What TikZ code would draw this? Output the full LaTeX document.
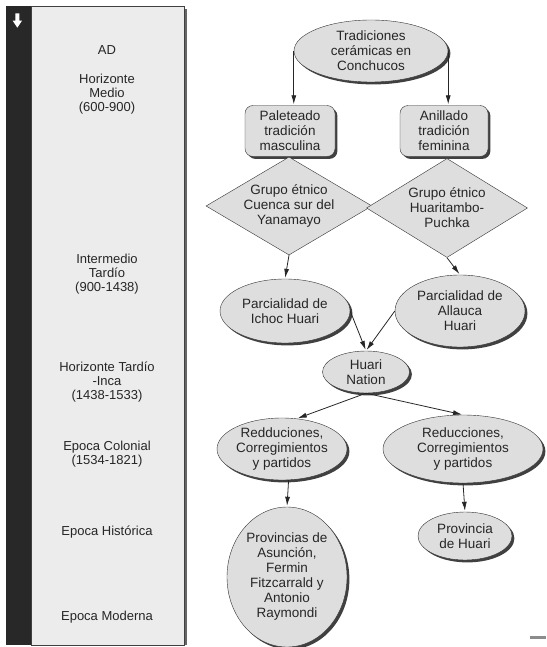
\documentclass[tikz,border=0pt]{standalone}
\usepackage{fontspec}
\setmainfont{Liberation Sans}
\usepackage{tikz}
\usetikzlibrary{arrows.meta,positioning,calc,shapes,shadows}

\definecolor{panelgray}{HTML}{ECECEC}
\definecolor{nodegray}{HTML}{DEDEDE}
\definecolor{bargray}{HTML}{282828}

\begin{document}
\begin{tikzpicture}[x=1pt,y=-1pt,
  txt/.style={font=\fontsize{13.5}{15}\selectfont, align=center, text=black!85},
  era/.style={font=\fontsize{13}{14}\selectfont, align=center, text=black!85},
  shade/.style={drop shadow={shadow xshift=2.4pt,shadow yshift=-2.4pt,fill=black!75,opacity=1}},
  blob/.style={txt, ellipse, draw=black!80, fill=nodegray, inner sep=0pt, shade},
  tbox/.style={txt, rectangle, rounded corners=8pt, draw=black!80, fill=nodegray, inner sep=0pt, shade},
  gem/.style={txt, diamond, aspect=1.7, draw=black!80, fill=nodegray, inner sep=0pt},
  arr/.style={-{Latex[length=9pt,width=5pt]}, draw=black!85, line width=0.8pt, shorten >=1pt}]
\useasboundingbox (0,0) rectangle (546,647);

% Timeline panel (left)
\fill[bargray] (6,6) rectangle (31,645);
\fill[black!60] (184,9) rectangle (187,645);
\filldraw[fill=panelgray, draw=black!75] (31,6) rectangle (184,645);
\fill[white] (15.3,13.3) rectangle (19.3,21) (12.7,20.7) -- (22,20.7) -- (17.3,27.7) -- cycle;

\node[era] (ad) at (107,50) {AD};
\node[era] (medio) at (107,94) {Horizonte\\Medio\\(600-900)};
\node[era] (intermedio) at (107,274) {Intermedio\\Tardío\\(900-1438)};
\node[era] (inca) at (107,382) {Horizonte Tardío\\-Inca\\(1438-1533)};
\node[era] (colonial) at (107,454) {Epoca Colonial\\(1534-1821)};
\node[era] (historica) at (107,532) {Epoca Histórica};
\node[era] (moderna) at (107,617) {Epoca Moderna};

% Ceramic traditions
\node[blob, minimum width=154pt, minimum height=62pt] (trad) at (371,51) {Tradiciones\\cerámicas en\\Conchucos};
\node[tbox, minimum width=90pt, minimum height=51pt] (pal) at (290,131) {Paleteado\\tradición\\masculina};
\node[tbox, minimum width=88pt, minimum height=51pt] (ani) at (444,131) {Anillado\\tradición\\feminina};

% Ethnic groups
\node[gem, minimum width=166pt, minimum height=98pt] (cuenca) at (289,206) {Grupo étnico\\Cuenca sur del\\Yanamayo};
\node[gem, minimum width=161pt, minimum height=99pt] (huaritambo) at (447,208) {Grupo étnico\\Huaritambo-\\Puchka};

% Parcialidades and nation
\node[blob, minimum width=130pt, minimum height=64pt] (ichoc) at (285,311) {Parcialidad de\\Ichoc Huari};
\node[blob, minimum width=130pt, minimum height=72pt] (allauca) at (460,311) {Parcialidad de\\Allauca\\Huari};
\node[blob, minimum width=87pt, minimum height=42pt] (nation) at (366,372) {Huari\\Nation};

% Colonial and modern units
\node[blob, minimum width=130pt, minimum height=62pt] (redd) at (282,449) {Redduciones,\\Corregimientos\\y partidos};
\node[blob, minimum width=160pt, minimum height=68pt] (reduc) at (463,449) {Reducciones,\\Corregimientos\\y partidos};
\node[blob, minimum width=120pt, minimum height=140pt] (provs) at (287,577) {Provincias de\\Asunción,\\Fermin\\Fitzcarrald y\\Antonio\\Raymondi};
\node[blob, minimum width=94pt, minimum height=48pt] (prov) at (465,536) {Provincia\\de Huari};

% Connectors
\draw[arr] (trad.west) -- (trad.west |- pal.north);
\draw[arr] (trad.east) -- (trad.east |- ani.north);
\draw[arr] (cuenca.south) -- (ichoc.north);
\draw[arr] (huaritambo.south) -- (allauca.north);
\draw[arr] (ichoc.east) -- (nation.north);
\draw[arr] (allauca.west) -- (nation.north);
\draw[arr] (nation.south) -- (redd.64);
\draw[arr] (nation.south) -- (reduc.north);
\draw[arr] (redd.-78) -- (provs.north);
\draw[arr] (reduc.south) -- (prov.north);

% Stray mark
\draw[line width=3pt, black!45] (530,637) -- (546,637);
\end{tikzpicture}
\end{document}
